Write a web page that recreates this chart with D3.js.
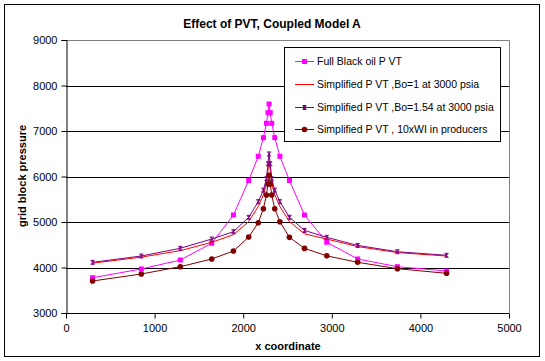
<!DOCTYPE html>
<html><head><meta charset="utf-8">
<script src="https://cdn.jsdelivr.net/npm/d3@7"></script>
<style>body{margin:0;background:#fff}svg{display:block}text{font-family:"Liberation Sans",Arial,sans-serif}</style>
</head><body>
<svg id="c" width="545" height="361"></svg>
<script>
const xCoord = [300, 850, 1290, 1645, 1890, 2062, 2170, 2228, 2262, 2280, 2292, 2305, 2322, 2356, 2414, 2522, 2692, 2943, 3292, 3740, 4295];
const fullBlackOil = [3776, 3967, 4165, 4532, 5154, 5912, 6444, 6853, 7169, 7402, 7593, 7402, 7169, 6853, 6444, 5912, 5154, 4555, 4187, 4018, 3923];
const bo1 = [4095, 4228, 4370, 4554, 4720, 5010, 5340, 5600, 5850, 6150, 6330, 6150, 5850, 5600, 5340, 5010, 4740, 4625, 4460, 4328, 4252];
const bo154 = [4114, 4253, 4422, 4626, 4787, 5103, 5447, 5700, 5950, 6280, 6495, 6280, 5950, 5700, 5447, 5103, 4815, 4663, 4485, 4347, 4268];
const wi10 = [3703, 3857, 4018, 4187, 4363, 4668, 4985, 5292, 5593, 5835, 6025, 5835, 5593, 5292, 5007, 4663, 4420, 4256, 4114, 3974, 3872];
const seriesNames = ["Full Black oil P VT", "Simplified P VT ,Bo=1 at 3000 psia", "Simplified P VT ,Bo=1.54 at 3000 psia", "Simplified P VT , 10xWI in producers"];
const xTicks = [0, 1000, 2000, 3000, 4000, 5000];
const yTicks = [3000, 4000, 5000, 6000, 7000, 8000, 9000];

const svg = d3.select("#c");
const L = 66, R = 509, T = 40, B = 313;
const x = d3.scaleLinear().domain([0, 5000]).range([L, R]);
const y = d3.scaleLinear().domain([3000, 9000]).range([B, T]);

svg.append("rect").attr("x", 4.5).attr("y", 4.5).attr("width", 535).attr("height", 352)
  .attr("fill", "#fff").attr("stroke", "#000");

svg.append("g").selectAll("line").data(yTicks.filter(v => v > 3000 && v < 9000)).join("line")
  .attr("x1", L).attr("x2", R).attr("y1", d => Math.round(y(d)) + 0.5).attr("y2", d => Math.round(y(d)) + 0.5)
  .attr("stroke", "#000");
svg.append("path").attr("d", `M${L},${T + 0.5}H${R + 0.5}V${B}`).attr("fill", "none").attr("stroke", "#808080");

const yAxis = svg.append("g").attr("transform", `translate(${L + 0.5},0)`)
  .call(d3.axisLeft(y).tickValues(yTicks).tickSize(5).tickPadding(4).tickFormat(d3.format("d")));
const xAxis = svg.append("g").attr("transform", `translate(0,${B + 0.5})`)
  .call(d3.axisBottom(x).tickValues(xTicks).tickSize(5).tickPadding(6).tickFormat(d3.format("d")));
[yAxis, xAxis].forEach(a => {
  a.select(".domain").attr("stroke", "#000");
  a.selectAll(".tick line").attr("stroke", "#000");
  a.selectAll("text").attr("font-size", 11).attr("fill", "#000").attr("font-family", '"Liberation Sans",Arial,sans-serif');
});
xAxis.select(".domain").attr("d", `M${L},0H${R}`);

const series = [
  {name: seriesNames[0], vals: fullBlackOil, color: "#FF00FF", marker: "square"},
  {name: seriesNames[1], vals: bo1, color: "#FF0000", marker: "none"},
  {name: seriesNames[2], vals: bo154, color: "#800080", marker: "star"},
  {name: seriesNames[3], vals: wi10, color: "#800000", marker: "circle"}
];
const line = d3.line().x(d => x(d[0])).y(d => y(d[1]));

function drawMarker(g, type, color, cx, cy) {
  if (type === "square") {
    g.append("rect").attr("x", cx - 2.5).attr("y", cy - 2.5).attr("width", 5).attr("height", 5).attr("fill", color);
  } else if (type === "circle") {
    g.append("circle").attr("cx", cx).attr("cy", cy).attr("r", 2.8).attr("fill", color);
  } else if (type === "star") {
    g.append("path").attr("d", `M${cx - 2},${cy - 2}H${cx + 2}M${cx - 2},${cy + 2}H${cx + 2}M${cx},${cy - 2}V${cy + 2}M${cx - 1.5},${cy - 1.5}L${cx + 1.5},${cy + 1.5}M${cx + 1.5},${cy - 1.5}L${cx - 1.5},${cy + 1.5}`)
      .attr("stroke", color).attr("stroke-width", 1).attr("fill", "none");
  }
}

series.forEach(s => {
  const pts = xCoord.map((xv, j) => [xv, s.vals[j]]);
  const g = svg.append("g");
  g.append("path").attr("d", line(pts)).attr("fill", "none").attr("stroke", s.color).attr("stroke-width", 1);
  pts.forEach(p => drawMarker(g, s.marker, s.color, x(p[0]), y(p[1])));
});

const lg = svg.append("g");
lg.append("rect").attr("x", 284.5).attr("y", 47.5).attr("width", 216).attr("height", 94)
  .attr("fill", "#fff").attr("stroke", "#000");
const ly = [61, 84, 107, 129];
series.forEach((s, i) => {
  lg.append("line").attr("x1", 295).attr("x2", 314).attr("y1", ly[i] + 0.5).attr("y2", ly[i] + 0.5).attr("stroke", s.color);
  drawMarker(lg, s.marker, s.color, 304.5, ly[i] + 0.5);
  lg.append("text").attr("x", 317).attr("y", ly[i] + 4).attr("font-size", 10.5).attr("fill", "#000").text(s.name);
});

svg.append("text").attr("x", 272).attr("y", 28).attr("text-anchor", "middle").attr("font-size", 12).attr("font-weight", "bold").text("Effect of PVT, Coupled Model A");
svg.append("text").attr("x", 288).attr("y", 350).attr("text-anchor", "middle").attr("font-size", 11).attr("font-weight", "bold").text("x coordinate");
svg.append("text").attr("transform", "translate(26,176) rotate(-90)").attr("text-anchor", "middle").attr("font-size", 11).attr("font-weight", "bold").text("grid block pressure");
</script>
</body></html>
